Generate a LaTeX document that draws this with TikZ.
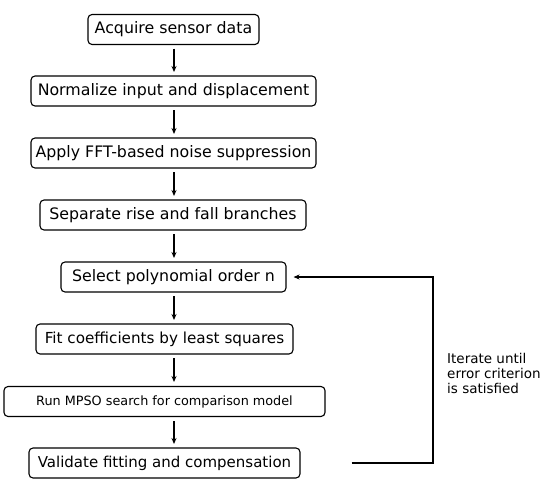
\documentclass[tikz,border=0pt]{standalone}
\usepackage{fontspec}
\setmainfont{DejaVu Sans}
\usetikzlibrary{arrows.meta}
\begin{document}
\begin{tikzpicture}[x=1pt,y=-1pt,
  stepbox/.style={draw, rounded corners=4pt, line width=1.1pt, inner sep=0pt, minimum height=30pt, font=\fontsize{15.8}{18}\selectfont},
  flow/.style={line width=1.1pt, -{Stealth[length=6pt,width=5pt]}, shorten <=4pt, shorten >=4pt},
  lbl/.style={align=left, anchor=west, font=\fontsize{13.5}{15}\selectfont, inner sep=0pt}]
\useasboundingbox (0,0) rectangle (550,493);
\node[stepbox, minimum width=171pt] (a) at (173.5,29.5) {Acquire sensor data};
\node[stepbox, minimum width=285pt] (b) at (173.5,91) {Normalize input and displacement};
\node[stepbox, minimum width=285pt] (c) at (173.5,153) {Apply FFT-based noise suppression};
\node[stepbox, minimum width=266pt] (d) at (173,215) {Separate rise and fall branches};
\node[stepbox, minimum width=225pt] (e) at (173.5,277) {Select polynomial order n};
\node[stepbox, minimum width=257pt, font=\fontsize{15.2}{18}\selectfont] (f) at (164.5,339) {Fit coefficients by least squares};
\node[stepbox, minimum width=321pt, font=\fontsize{12.8}{14}\selectfont] (g) at (164.5,401.5) {Run MPSO search for comparison model};
\node[stepbox, minimum width=271pt, font=\fontsize{15}{18}\selectfont] (h) at (164.5,463) {Validate fitting and compensation};
\draw[flow] (174,44.5) -- (174,76);
\draw[flow] (174,106) -- (174,138);
\draw[flow] (174,168) -- (174,200);
\draw[flow] (174,230) -- (174,262);
\draw[flow] (174,292) -- (174,324);
\coordinate (f1) at (174,354);
\coordinate (g1) at (174,386);
\draw[flow] (f1) -- (g1);
\coordinate (g2) at (174,417);
\coordinate (h2) at (174,448);
\draw[flow] (g2) -- (h2);
\coordinate (c1) at (433,463);
\coordinate (c2) at (433,277);
\draw[line width=1.1pt, -{Stealth[length=6pt,width=5pt]}, shorten >=7pt] ([xshift=51pt]h.east) -- (c1) -- (c2) -- (e.east);
\node[lbl] (t) at (447,373) {Iterate until\\error criterion\\is satisfied};
\end{tikzpicture}
\end{document}
